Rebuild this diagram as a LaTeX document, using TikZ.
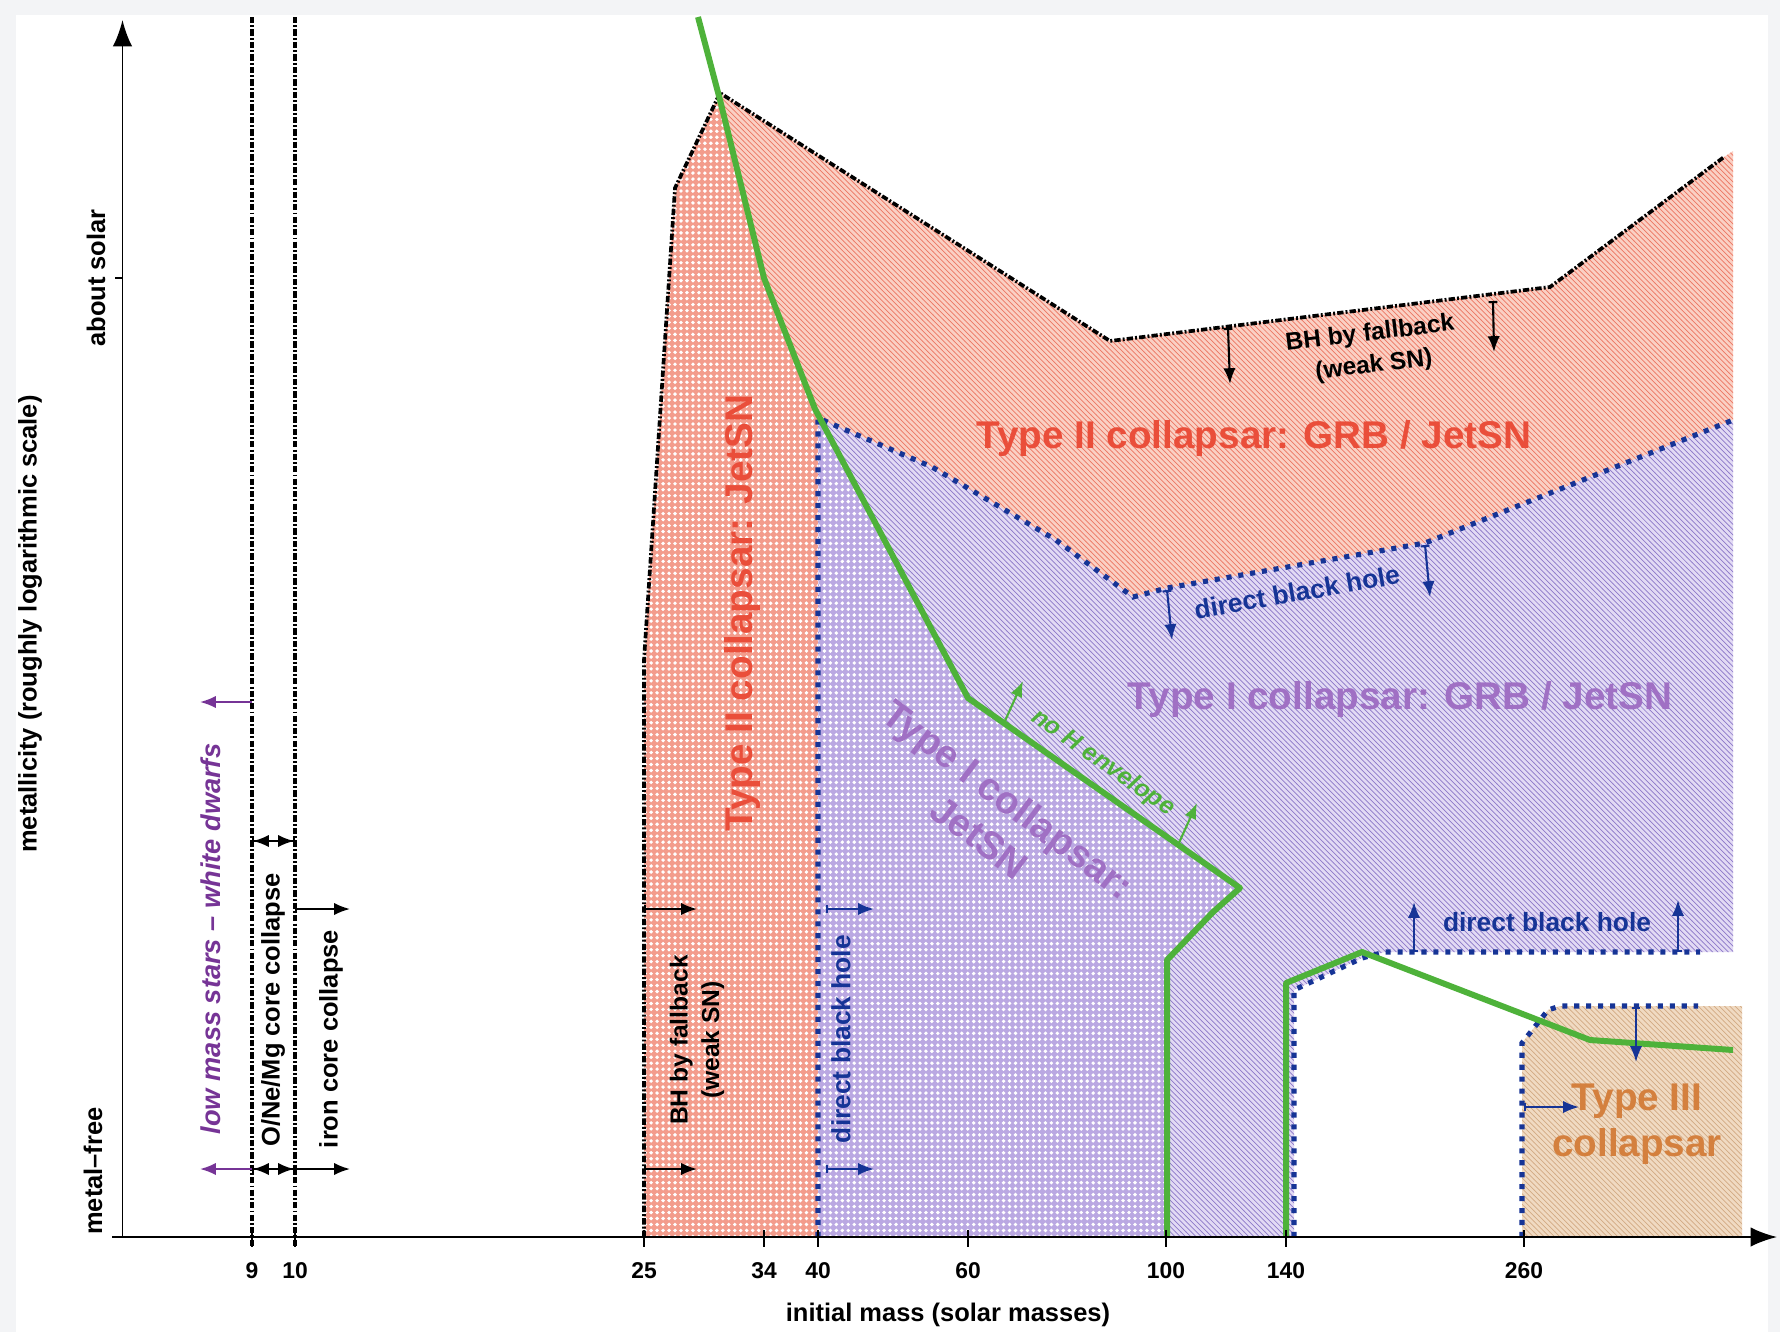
\documentclass[tikz,border=0pt]{standalone}
\usepackage{fontspec}
\setmainfont{Liberation Sans}
\usepackage{tikz}
\usetikzlibrary{calc}
\usetikzlibrary{patterns}
\usetikzlibrary{arrows.meta}

\definecolor{framegray}{RGB}{243,244,246}
\definecolor{redbg}{RGB}{250,208,196}
\definecolor{redln}{RGB}{236,118,98}
\definecolor{reddot}{RGB}{243,156,140}
\definecolor{purbg}{RGB}{226,218,244}
\definecolor{purln}{RGB}{140,120,200}
\definecolor{purdot}{RGB}{186,168,226}
\definecolor{tanbg}{RGB}{240,218,194}
\definecolor{tanln}{RGB}{210,170,132}
\definecolor{bhblue}{RGB}{22,52,150}
\definecolor{envgreen}{RGB}{78,178,58}
\definecolor{t2red}{RGB}{234,78,58}
\definecolor{t1purple}{RGB}{160,112,196}
\definecolor{t3tan}{RGB}{212,128,62}
\definecolor{lowpurple}{RGB}{118,52,150}

\newcommand{\biglab}{\fontsize{22}{27}\selectfont\bfseries}
\newcommand{\midlab}{\fontsize{14.5}{17}\selectfont\bfseries}
\newcommand{\smalllab}{\fontsize{14}{18}\selectfont\bfseries}
\newcommand{\holelab}{\fontsize{15}{18}\selectfont\bfseries}

\pgfdeclarepatternformonly{whitedots}{\pgfqpoint{-1.2pt}{-1.2pt}}{\pgfqpoint{1.2pt}{1.2pt}}{\pgfqpoint{3.4pt}{3.4pt}}{%
  \pgfpathcircle{\pgfpointorigin}{1.1pt}\pgfusepath{fill}}

\begin{document}
\begin{tikzpicture}[x=0.02cm,y=-0.02cm]
    \tikzstyle{every node}=[font=\midlab,inner sep=0pt]
    \tikzstyle{bound}=[draw=black,line width=2.1pt,dash pattern=on 3.6pt off 1.2pt on 1.1pt off 1.2pt]
    \tikzstyle{bhline}=[draw=bhblue,line width=2.9pt,dash pattern=on 2.9pt off 3.9pt]
    \tikzstyle{henv}=[draw=envgreen,line width=3.4pt,line join=round]
    \tikzstyle{ann}=[line width=1.2pt,-{Latex[length=9pt,width=7pt]}]
    \tikzstyle{annbar}=[line width=1.2pt,{Bar[width=5pt]}-{Latex[length=9pt,width=7pt]}]
    \tikzstyle{axis}=[line width=1.1pt,-{Latex[length=15pt,width=11pt]}]

   \useasboundingbox (0,0) rectangle (1780,1332);
   \fill[framegray] (0,0) rectangle (1780,1332);
   \fill[white] (16,15) rectangle (1768,1332);

   % regions
   \path[fill=redbg,postaction={pattern=north west lines,pattern color=redln}]
     (644,1237) -- (644,660) -- (675,188) -- (720,93) -- (1110,341) -- (1550,287) -- (1724,157)
     -- (1733,151) -- (1733,420) -- (1425,543) -- (1167,588) -- (1133,597) -- (1056,540)
     -- (932,467) -- (818,418) -- (818,1237) -- cycle;
   \path[fill=reddot,postaction={pattern=whitedots,pattern color=white}]
     (644,1237) -- (644,660) -- (675,188) -- (720,93) -- (720,100) -- (764,278) -- (815,409)
     -- (819,418) -- (818,1237) -- cycle;
   \path[fill=purbg,postaction={pattern=north west lines,pattern color=purln}]
     (818,418) -- (932,467) -- (1056,540) -- (1133,597) -- (1167,588) -- (1425,543) -- (1733,420)
     -- (1733,952) -- (1385,952) -- (1362,958) -- (1294,990) -- (1294,1237) -- (818,1237) -- cycle;
   \path[fill=purdot,postaction={pattern=whitedots,pattern color=white}]
     (819,418) -- (968,698) -- (1240,888) -- (1213,912) -- (1167,960) -- (1167,1237)
     -- (818,1237) -- cycle;
   \path[fill=tanbg,postaction={pattern=north west lines,pattern color=tanln}]
     (1522,1237) -- (1522,1043) -- (1548,1010) -- (1560,1006) -- (1742,1006) -- (1742,1237) -- cycle;

   % boundaries
   \draw[bound] (252,17) -- (252,1247);
   \draw[bound] (295,17) -- (295,1247);
   \draw[bound] (644,1237) -- (644,660) -- (675,188) -- (720,93) -- (1110,341) -- (1550,287) -- (1724,157);
   \draw[bhline] (818,1237) -- (818,418) -- (932,467) -- (1056,540) -- (1133,597) -- (1167,588)
     -- (1425,543) -- (1733,420);
   \draw[bhline] (1294,1237) -- (1294,990) -- (1362,958) -- (1385,952) -- (1700,952);
   \draw[bhline] (1522,1237) -- (1522,1043) -- (1548,1010) -- (1560,1006) -- (1698,1006);
   \draw[henv] (698,17) -- (720,100) -- (764,278) -- (815,409) -- (968,698) -- (1240,888)
     -- (1213,912) -- (1167,960) -- (1167,1237);
   \draw[henv] (1286,1237) -- (1286,983) -- (1362,952) -- (1590,1040) -- (1733,1050);

   % axes
   \coordinate (xstart) at (112,1237);
   \coordinate (xend) at (1777,1237);
   \coordinate (ystart) at (122.5,1237);
   \coordinate (yend) at (122.5,20);
   \draw[axis] (xstart) -- (xend);
   \draw[axis] (ystart) -- (yend);
   \draw[line width=1.1pt] (115,278) -- (122.5,278);

   \foreach \m/\xx in {9/252,10/295,25/644,34/764,40/818,60/968,100/1166,140/1286,260/1524} {
     \draw[line width=1.1pt] (\xx,1230) -- (\xx,1247);
     \node[font=\fontsize{13}{15}\selectfont\bfseries] (tick\m) at (\xx,1271) {\m};
   }

   \node[rotate=90] (ylab) at (30,624) {metallicity (roughly logarithmic scale)};
   \node[rotate=90] (solar) at (96,278) {about solar};
   \node[rotate=90] (mfree) at (93,1171) {metal--free};
   \node (xlab) at (948,1315) {initial mass (solar masses)};

   % low mass end
   \node[rotate=90,text=lowpurple,font=\fontsize{15.5}{18}\selectfont\bfseries\itshape] (wd) at (211,939) {low mass stars -- white dwarfs};
   \node[rotate=90] (onemg) at (273,1010) {O/Ne/Mg core collapse};
   \node[rotate=90] (iron) at (331,1039) {iron core collapse};

   \foreach \yy in {702,1169}
     \draw[ann,draw=lowpurple] (252,\yy) -- (200,\yy);
   \foreach \yy in {841,1169} {
     \draw[annbar] (252,\yy) -- (294,\yy);
     \draw[annbar] (295,\yy) -- (253,\yy);
   }
   \foreach \yy in {909,1169} {
     \draw[annbar] (295,\yy) -- (350,\yy);
     \draw[annbar] (644,\yy) -- (697,\yy);
     \draw[annbar,draw=bhblue] (826,\yy) -- (874,\yy);
   }

   % region labels
   \node[rotate=90,align=center,font=\smalllab] (fb25) at (697,1040) {BH by fallback\\(weak SN)};
   \node[rotate=90,text=bhblue,font=\holelab] (dbh40) at (841,1039) {direct black hole};
   \node[rotate=90,text=t2red,font=\biglab] (t2jet) at (742,613) {Type II collapsar: JetSN};
   \node[text=t2red,font=\biglab] (t2grb) at (1254,438) {Type II collapsar: GRB / JetSN};
   \node[text=t1purple,font=\biglab] (t1grb) at (1400,699) {Type I collapsar: GRB / JetSN};
   \node[rotate=-37,text=t1purple,font=\biglab,align=center] (t1jet) at (994,818) {Type I collapsar:\\JetSN};
   \node[rotate=-35,text=envgreen,font=\smalllab\itshape] (noh) at (1103,763) {no H envelope};
   \node[rotate=7,align=center,font=\smalllab] (fbtop) at (1372,350) {BH by fallback\\(weak SN)};
   \node[rotate=10,text=bhblue,font=\holelab] (dbhtop) at (1297,592) {direct black hole};
   \node[text=bhblue,font=\holelab] (dbhlow) at (1547,922) {direct black hole};
   \node[text=t3tan,font=\fontsize{22}{26}\selectfont\bfseries,align=center] (t3) at (1637,1124) {Type III\\collapsar};

   \draw[annbar,draw=envgreen] (1004,723) -- (1023,681);
   \draw[annbar,draw=envgreen] (1178,845) -- (1197,803);
   \draw[annbar] (1228,328) -- (1230,384);
   \draw[annbar] (1493,301) -- (1494,352);
   \draw[annbar,draw=bhblue] (1167,590) -- (1172,640);
   \draw[annbar,draw=bhblue] (1425,545) -- (1430,597);
   \draw[annbar,draw=bhblue] (1414,952) -- (1414,902);
   \draw[annbar,draw=bhblue] (1678,952) -- (1678,900);
   \draw[annbar,draw=bhblue] (1524,1107) -- (1579,1107);
   \draw[annbar,draw=bhblue] (1636,1007) -- (1636,1062);

  \end{tikzpicture}
\end{document}
